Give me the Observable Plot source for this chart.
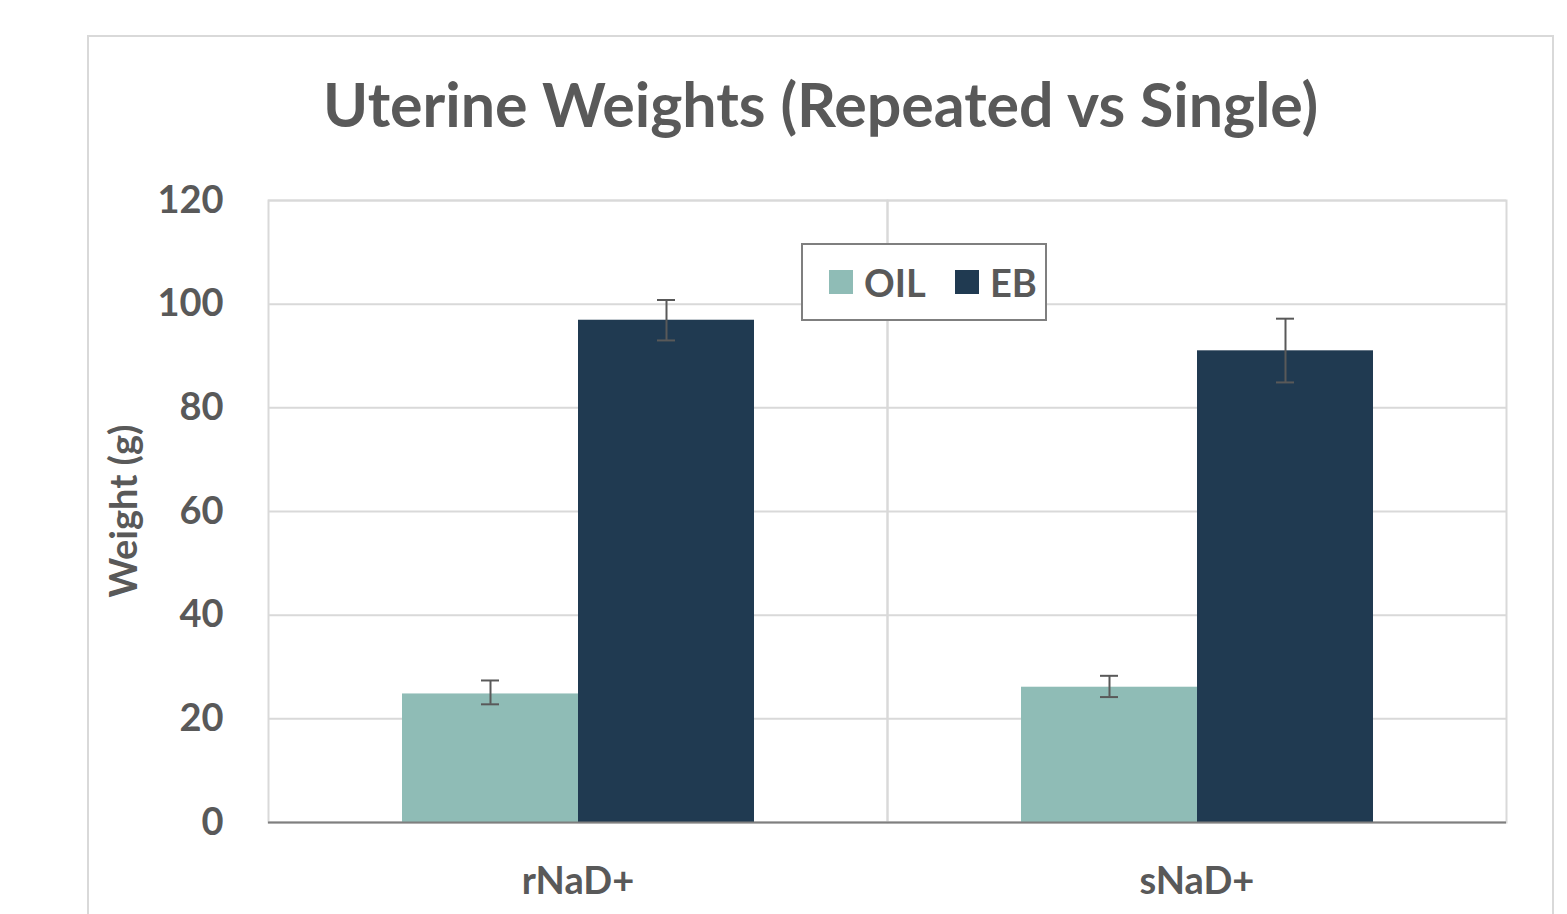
<!DOCTYPE html>
<html><head><meta charset="utf-8">
<script src="https://cdn.jsdelivr.net/npm/d3@7"></script>
<script src="https://cdn.jsdelivr.net/npm/@observablehq/plot@0.6"></script>
<style>
body{margin:0;background:#fff;overflow:hidden;}
#wrap{position:relative;width:1567px;height:914px;overflow:hidden;font-family:Lato,sans-serif;font-weight:bold;color:#595959;}
#border{position:absolute;left:87px;top:35px;width:1467px;height:920px;border:2px solid #d9d9d9;box-sizing:border-box;}
#title{position:absolute;left:87px;width:1467px;top:73px;text-align:center;font-size:61px;line-height:61px;white-space:nowrap;}
#title span{display:inline-block;transform-origin:center;}
#chart{position:absolute;left:0;top:0;}
#ylabel{position:absolute;left:122px;top:511px;font-size:38px;white-space:nowrap;transform:translate(-50%,-50%) rotate(-90deg);}
#legend{position:absolute;left:801px;top:243px;width:246px;height:78px;border:2px solid #7f7f7f;box-sizing:border-box;background:#fff;}
.item{position:absolute;top:0;height:74px;display:flex;align-items:center;font-size:38px;}
.sw{width:24px;height:24px;margin-right:11px;}
</style></head>
<body>
<div id="wrap">
  <div id="border"></div>
  <div id="chart"></div>
  <div id="title"><span>Uterine Weights (Repeated vs Single)</span></div>
  <div id="ylabel">Weight (g)</div>
  <div id="legend"></div>
</div>
<script>
const groups = ["rNaD+", "sNaD+"];
const series = ["OIL", "EB"];
const seriesColors = ["#8fbcb6", "#203a51"];
const oilMean = [24.8, 26.1];
const oilLow = [22.8, 24.2];
const oilHigh = [27.4, 28.3];
const ebMean = [96.9, 91.0];
const ebLow = [93.0, 84.9];
const ebHigh = [100.8, 97.2];
const yTicks = [0, 20, 40, 60, 80, 100, 120];

const rows = [];
groups.forEach((g, i) => {
  rows.push({group: g, series: "OIL", value: oilMean[i], low: oilLow[i], high: oilHigh[i]});
  rows.push({group: g, series: "EB", value: ebMean[i], low: ebLow[i], high: ebHigh[i]});
});

const errColor = "#595959";
const chart = Plot.plot({
  width: 1567, height: 914,
  marginLeft: 267, marginRight: 61, marginTop: 200, marginBottom: 92,
  style: {fontFamily: "Lato, sans-serif", fontSize: "38px", fontWeight: "bold", color: "#595959", background: "transparent", overflow: "visible"},
  fx: {domain: groups, padding: 0, axis: "bottom", label: null, tickSize: 0, tickPadding: 45},
  x: {domain: series, paddingInner: 0, paddingOuter: 0.75, axis: null},
  y: {domain: [0, 120], label: null},
  color: {domain: series, range: seriesColors},
  marks: [
    Plot.ruleY(yTicks, {stroke: "#d9d9d9", strokeWidth: 2}),
    Plot.frame({stroke: "#d9d9d9", strokeWidth: 2}),
    Plot.barY(rows, {fx: "group", x: "series", y: "value", fill: "series", inset: 0}),
    Plot.ruleX(rows, {fx: "group", x: "series", y1: "low", y2: "high", stroke: errColor, strokeWidth: 2}),
    Plot.tickY(rows, {fx: "group", x: "series", y: "low", insetLeft: 79, insetRight: 79, stroke: errColor, strokeWidth: 2}),
    Plot.tickY(rows, {fx: "group", x: "series", y: "high", insetLeft: 79, insetRight: 79, stroke: errColor, strokeWidth: 2}),
    Plot.ruleY([0], {stroke: "#7f7f7f", strokeWidth: 2}),
    Plot.axisY({ticks: yTicks, tickSize: 0, tickPadding: 45, label: null, line: true, stroke: "#7f7f7f", strokeWidth: 2})
  ]
});
document.getElementById("chart").appendChild(chart);

// legend
const legend = document.getElementById("legend");
const legendPos = [26, 152];
series.forEach((s, i) => {
  const it = document.createElement("div");
  it.className = "item";
  it.style.left = legendPos[i] + "px";
  const sw = document.createElement("div");
  sw.className = "sw";
  sw.style.background = seriesColors[i];
  const tx = document.createElement("span");
  tx.textContent = s;
  it.appendChild(sw); it.appendChild(tx);
  legend.appendChild(it);
});

// fit title width
const ts = document.querySelector("#title span");
const w = ts.getBoundingClientRect().width;
ts.style.transform = `scaleX(${995 / w})`;
</script>
</body></html>
